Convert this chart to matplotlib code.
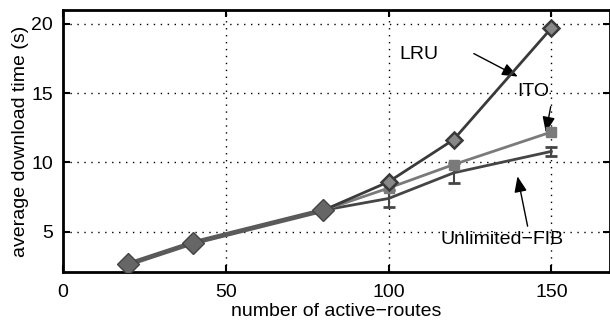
import matplotlib
matplotlib.use("Agg")
import matplotlib.pyplot as plt

plt.rcParams['font.family'] = ['Liberation Sans', 'DejaVu Sans']

x = [20, 40, 80, 100, 120, 150]
lru = [2.65, 4.2, 6.55, 8.6, 11.65, 19.7]
ito = [2.65, 4.2, 6.55, 8.15, 9.85, 12.2]
ito_err = [0, 0, 0, 0.1, 0.15, 0.25]
unl = [2.65, 4.2, 6.55, 7.4, 9.25, 10.8]
unl_err = [0, 0, 0, 0.6, 0.7, 0.35]

fig = plt.figure(figsize=(6.1, 3.26), dpi=100)
ax = fig.add_axes([0.103, 0.166, 0.897, 0.803])

c_lru = '#3a3a3a'
c_ito = '#7a7a7a'
c_unl = '#454545'
fs = 14

ax.errorbar(x, unl, yerr=unl_err, color=c_unl, lw=2, capsize=4, capthick=2, elinewidth=1.5, zorder=3)
ax.errorbar(x, ito, yerr=ito_err, color=c_ito, lw=2, marker='s', ms=7, capsize=3, zorder=4)
ax.plot(x, lru, color=c_lru, lw=2, marker='D', ms=8, mfc='#888888', mec=c_lru, mew=1.8, zorder=5,
        markevery=[3, 4, 5])
ax.plot(x[:3], lru[:3], color='#5a5a5a', lw=3.5, marker='D', ms=11, mfc='#666666', mec='#444444', zorder=6)

ax.set_xlim(0, 168)
ax.set_ylim(2.1, 21)
ax.set_xticks([0, 50, 100, 150])
ax.set_yticks([5, 10, 15, 20])
ax.grid(True, color='black', linestyle=(0, (1, 4)), lw=1)
ax.tick_params(direction='in', top=True, right=True, length=5, width=1.5, labelsize=fs)
ax.tick_params(axis='x', pad=9)
ax.tick_params(axis='y', pad=7)
for s in ax.spines.values():
    s.set_linewidth(2)

ax.set_xlabel('number of active\u2212routes', fontsize=fs, labelpad=1)
ax.set_ylabel('average download time (s)', fontsize=fs, labelpad=2)

arrow = dict(arrowstyle='-|>,head_length=0.95,head_width=0.38', color='black', lw=1,
             shrinkA=0, shrinkB=0)
ax.text(109.2, 17.8, 'LRU', fontsize=fs, ha='center', va='center')
ax.annotate('', xy=(139.7, 16.2), xytext=(126.2, 17.86), arrowprops=arrow)
ax.text(144.3, 15.1, 'ITO', fontsize=fs, ha='center', va='center')
ax.annotate('', xy=(148.3, 12.16), xytext=(149.8, 14.03), arrowprops=arrow)
ax.text(134.8, 4.44, 'Unlimited\u2212FIB', fontsize=fs, ha='center', va='center')
ax.annotate('', xy=(139.6, 9.0), xytext=(142.7, 5.4), arrowprops=arrow)

fig.savefig('out.png', dpi=100)
